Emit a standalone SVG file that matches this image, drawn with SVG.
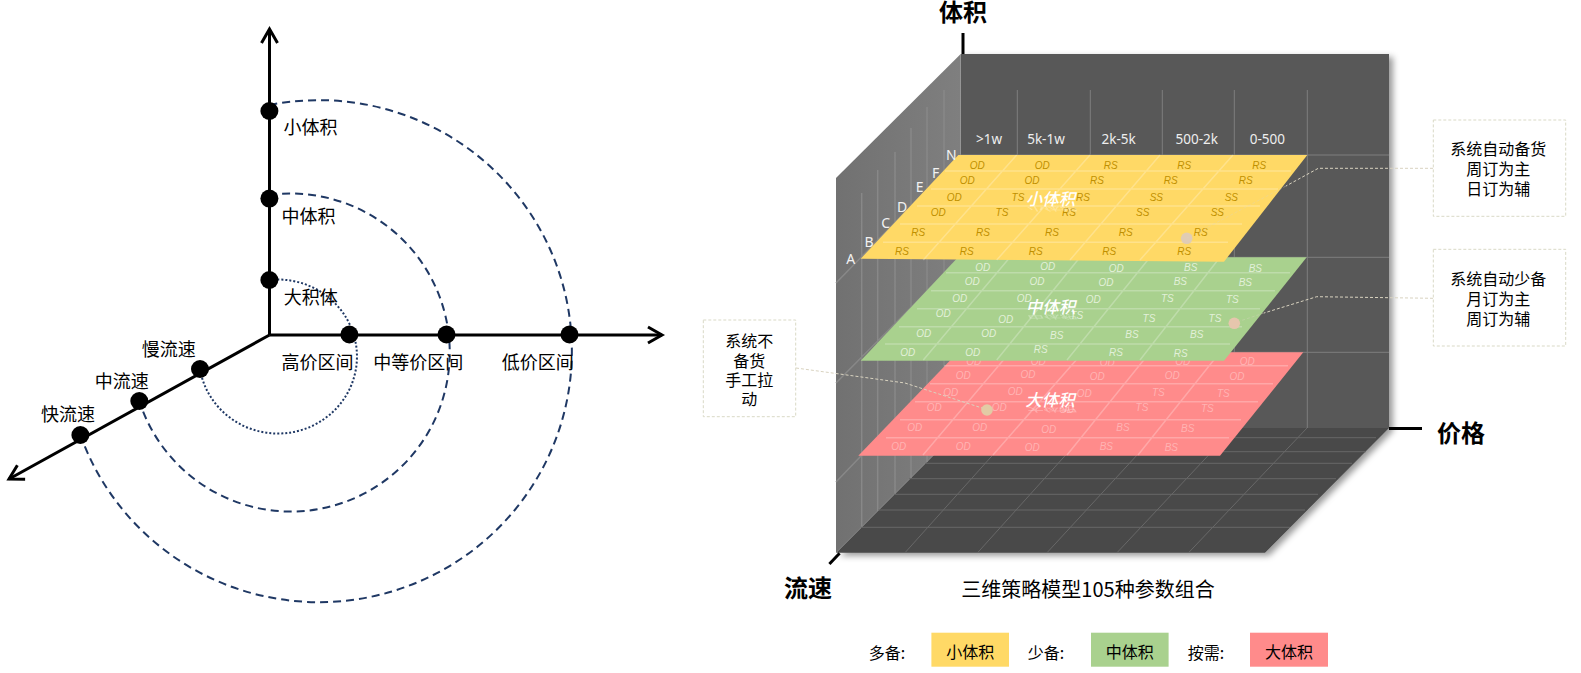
<svg xmlns="http://www.w3.org/2000/svg" width="1581" height="673" viewBox="0 0 1581 673">
<style>
text{font-family:"Noto Sans CJK SC","Noto Sans",sans-serif;text-anchor:middle;dominant-baseline:central;fill:#000}
.l{font-size:18px}
.b{font-size:16px}
.h{font-size:24px;font-weight:700}
.cap{font-size:20px}
.ax{fill:none;stroke:#000;stroke-width:3}
.arc{fill:none;stroke:#1f3864;stroke-width:2;stroke-dasharray:8 5}
.dot{fill:#000}
.vg{stroke:#7f7f7f;stroke-width:1;fill:none}
.wg{stroke:#888;stroke-width:1.5;fill:none}
.fg{stroke:#686868;stroke-width:1;fill:none}
.pg{stroke:#fff;stroke-opacity:.25;stroke-width:1.5;fill:none}
.lead{fill:none;stroke:#d9d3c0;stroke-width:1;stroke-dasharray:3 2}
.faint{stroke-opacity:.35}
.box{fill:#fff;stroke:#d9d9c6;stroke-width:1;stroke-dasharray:3 2}
.hd{font-family:"Noto Sans",sans-serif;font-size:13.5px;fill:#eee}
.ro{font-family:"Noto Sans",sans-serif;font-size:14px;fill:#f2f2f2}
.c text{font-family:"Liberation Sans",sans-serif;font-size:10px;font-style:italic}
.y text{fill:#bf9000}
.g text{fill:#e2f0d9}
.r text{fill:#ffb3b3}
.c text.ti{font-family:"Noto Sans CJK SC",sans-serif;font-size:16.5px;font-weight:500;font-style:italic;fill:#fff}
</style>
<defs>
<marker id="open" markerUnits="userSpaceOnUse" markerWidth="24" markerHeight="24" refX="16" refY="10" orient="auto" viewBox="0 0 24 20"><path d="M2,2 L16,10 L2,18" fill="none" stroke="#000" stroke-width="3"/></marker>
<linearGradient id="wall" x1="0" y1="0" x2="1" y2="0"><stop offset="0" stop-color="#717171"/><stop offset="1" stop-color="#7f7f7f"/></linearGradient>
<filter id="sh" x="-5%" y="-5%" width="110%" height="110%"><feDropShadow dx="4" dy="3" stdDeviation="3" flood-color="#000" flood-opacity=".4"/></filter>
</defs>

<g id="connectors">
<path class="arc" style="stroke-dasharray:2 2" d="M269.4,280 A79,77 0 1 1 200,369"/>
<path class="arc" d="M269.2,195 A159,159 0 1 1 139.3,401"/>
<path class="arc" d="M269.4,105 A253,251 0 1 1 80.4,435"/>
<path class="ax" marker-end="url(#open)" d="M269.5,335 L269.5,29"/>
<path class="ax" marker-end="url(#open)" d="M269.5,335 L662,335"/>
<path class="ax" marker-end="url(#open)" d="M269.5,335 L9,479"/>
</g>

<g id="n-small-vol"><circle class="dot" cx="269.4" cy="111" r="9"/><text class="l" x="310.6" y="126">小体积</text></g>
<g id="n-mid-vol"><circle class="dot" cx="269.4" cy="198.6" r="9"/><text class="l" x="308.5" y="214.8">中体积</text></g>
<g id="n-big-vol"><circle class="dot" cx="269.4" cy="280" r="9"/><text class="l" x="310.8" y="296">大积体</text></g>
<g id="n-high"><circle class="dot" cx="349.4" cy="334.5" r="9"/><text class="l" x="317.6" y="360.7">高价区间</text></g>
<g id="n-mid"><circle class="dot" cx="446.5" cy="334.5" r="9"/><text class="l" x="418.3" y="360.7">中等价区间</text></g>
<g id="n-low"><circle class="dot" cx="569.5" cy="334.5" r="9"/><text class="l" x="537.7" y="360.7">低价区间</text></g>
<g id="n-slow"><circle class="dot" cx="200" cy="369" r="9"/><text class="l" x="168.8" y="347.7">慢流速</text></g>
<g id="n-midflow"><circle class="dot" cx="139.3" cy="401" r="9"/><text class="l" x="121.7" y="380">中流速</text></g>
<g id="n-fast"><circle class="dot" cx="80.4" cy="435" r="9"/><text class="l" x="68" y="413">快流速</text></g>

<g id="cube">
<g filter="url(#sh)">
<path fill="#595959" d="M960.7,54 H1389 V428 H960.7 Z"/>
<path fill="#484848" d="M836,552.7 H1265 L1389,428 H960.7 Z"/>
</g>
<path fill="url(#wall)" d="M960.7,54 L836,178 V552.7 L960.7,428 Z"/>
<path class="vg" d="M1017.3,90V428M1090.3,90V428M1162.3,90V428M1234.3,90V428M1307.3,90V428M960.7,155H1389M960.7,257.3H1389M960.7,352.3H1389"/>
<path class="wg" d="M861.7,193V527M877.7,170V511M895,152V494M911,128V478M927,107V462M944,90V445M836,283L960.7,155M836,383L960.7,257.3M836,482L960.7,352.3"/>
<path class="fg" d="M950,437.7H1376M936,451.7H1366M925,463.3H1352M909,478.7H1336M894,494.3H1318M878,510H1305M861,527.3H1290M905,552.7L1017,428M977.6,552.7L1090,428M1047,552.7L1162,428M1117,552.7L1234,428M1188.6,552.7L1307,428"/>
</g>

<g id="plane-large" class="c r">
<path fill="#ff8b8b" d="M958,352.3 H1303.3 L1220,455.7 H858.3 Z"/>
<path class="pg" d="M944,365.7H1288M930,383.7H1273M915,401.7H1258M900,419.7H1241M886,437.7H1229M923,455L1010,352.3M993,455L1083,352.3M1067,455L1150,352.3M1138,455L1220,352.3"/>
<text x="973.7" y="361">OD</text><text x="1038.3" y="361">OD</text><text x="1107.3" y="362">OD</text><text x="1182.7" y="361">OD</text><text x="1247.3" y="361.7">OD</text>
<text x="963.3" y="375.7">OD</text><text x="1028" y="374.3">OD</text><text x="1097.3" y="376.7">OD</text><text x="1172.3" y="375.7">OD</text><text x="1237" y="376.7">OD</text>
<text x="950.7" y="392.3">OD</text><text x="1015.3" y="391.7">OD</text><text x="1084.3" y="393.3">OD</text><text x="1158.3" y="392.3">TS</text><text x="1223.3" y="393.3">TS</text>
<text x="934.3" y="407.3">OD</text><text x="999.3" y="407.3">OD</text><text x="1066.7" y="409.3">OD</text><text x="1142" y="407.3">TS</text><text x="1207.3" y="408.3">TS</text>
<text x="914.7" y="427.7">OD</text><text x="979.7" y="427.7">OD</text><text x="1048.7" y="429.3">OD</text><text x="1123" y="427.7">BS</text><text x="1187.7" y="428.3">BS</text>
<text x="898.7" y="446.7">OD</text><text x="963.3" y="446.7">OD</text><text x="1032.3" y="447.3">OD</text><text x="1106.3" y="446.7">BS</text><text x="1171.3" y="447.3">BS</text>
<circle cx="987" cy="410" r="5.8" fill="#e2cba5"/>
<text id="t3" class="ti" x="1050" y="399">大体积</text>
<use href="#t3" opacity=".3" transform="translate(0,569.8) scale(1,-.4)"/>
</g>

<g id="plane-mid" class="c g">
<path fill="#a9d18e" d="M958,257.3 H1306.7 L1224,360.7 H860.7 Z"/>
<path class="pg" d="M946,272.7H1290M931,290.7H1275M917,308.7H1260M899,326.7H1242M885,344H1230M923.3,360L1010,257.3M996.7,360L1080,257.3M1067,360L1150,257.3M1140,360L1220,257.3"/>
<text x="982.7" y="267.7">OD</text><text x="1047.7" y="266.7">OD</text><text x="1116.3" y="268.7">OD</text><text x="1190.7" y="267.3">BS</text><text x="1255.3" y="268.7">BS</text>
<text x="972.3" y="281.7">OD</text><text x="1037" y="281.7">OD</text><text x="1106" y="282.7">OD</text><text x="1180.3" y="281.7">BS</text><text x="1245.3" y="282.7">BS</text>
<text x="959.7" y="298.7">OD</text><text x="1024.3" y="298.7">OD</text><text x="1093.3" y="299.7">OD</text><text x="1167.3" y="298.7">TS</text><text x="1232.3" y="299.7">TS</text>
<text x="943.3" y="313.3">OD</text><text x="1005.7" y="319.3">OD</text><text x="1076.7" y="315.3">TS</text><text x="1149" y="318.3">TS</text><text x="1215" y="318.3">TS</text>
<text x="923.7" y="333.3">OD</text><text x="988.7" y="333.3">OD</text><text x="1056.7" y="335.3">BS</text><text x="1132" y="334.3">BS</text><text x="1196.7" y="334.3">BS</text>
<text x="907.7" y="352.3">OD</text><text x="972.7" y="352.3">OD</text><text x="1040.7" y="349.3">RS</text><text x="1116" y="352.3">RS</text><text x="1180.7" y="353.3">RS</text>
<circle cx="1234.3" cy="323.3" r="5.8" fill="#e6c6ad"/>
<text id="t2" class="ti" x="1050.5" y="306">中体积</text>
<use href="#t2" opacity=".3" transform="translate(0,439.6) scale(1,-.4)"/>
</g>

<g id="plane-small" class="c y">
<path fill="#ffd966" d="M958.3,155 H1307.3 L1224,261.7 L860.7,258.7 Z"/>
<path class="pg" d="M945,171H1291M931,189H1278M917,206H1260M900,224H1242M883,242.3H1228M923.3,260L1016.7,155M996.7,260L1090,155M1070,260L1160,155M1140,260L1233,155"/>
<text x="977.3" y="165.7">OD</text><text x="1042.3" y="165.7">OD</text><text x="1110.7" y="165.7">RS</text><text x="1184.3" y="165.7">RS</text><text x="1259.3" y="165.7">RS</text>
<text x="967.3" y="180.7">OD</text><text x="1032" y="180.7">OD</text><text x="1097" y="180.7">RS</text><text x="1170.7" y="180.7">RS</text><text x="1245.7" y="180.7">RS</text>
<text x="954.3" y="197.3">OD</text><text x="1018" y="197.3">TS</text><text x="1083" y="197.3">RS</text><text x="1156.3" y="197.3">SS</text><text x="1231.3" y="197.3">SS</text>
<text x="938.3" y="212.3">OD</text><text x="1002" y="212.3">TS</text><text x="1069" y="212.3">RS</text><text x="1142.7" y="212.3">SS</text><text x="1217.3" y="212.3">SS</text>
<text x="918.3" y="232.3">RS</text><text x="983" y="232.3">RS</text><text x="1052" y="232.3">RS</text><text x="1125.7" y="232.3">RS</text><text x="1200.7" y="232.3">RS</text>
<text x="902" y="251.3">RS</text><text x="966.7" y="251.3">RS</text><text x="1035.7" y="251.3">RS</text><text x="1109.3" y="251.3">RS</text><text x="1184.3" y="251.3">RS</text>
<circle cx="1186.7" cy="238.3" r="5.8" fill="#e0ccb5"/>
<text id="t1" class="ti" x="1050.5" y="198">小体积</text>
<use href="#t1" opacity=".3" transform="translate(0,288.4) scale(1,-.4)"/>
</g>

<g id="price-headers">
<text class="hd" x="989" y="139.3">&gt;1w</text><text class="hd" x="1046" y="139.3">5k-1w</text><text class="hd" x="1118.7" y="139.3">2k-5k</text><text class="hd" x="1196.7" y="139.3">500-2k</text><text class="hd" x="1267.3" y="139.3">0-500</text>
</g>
<g id="flow-labels">
<text class="ro" x="850.7" y="258.3">A</text><text class="ro" x="869" y="241.3">B</text><text class="ro" x="885.7" y="222.3">C</text><text class="ro" x="902" y="206">D</text><text class="ro" x="919.7" y="186">E</text><text class="ro" x="935.7" y="172">F</text><text class="ro" x="951.3" y="154.3">N</text>
</g>

<g id="leaders">
<path class="lead" d="M1433,168.3 L1318.3,168.3 L1286,186"/>
<path class="lead faint" d="M1286,186 L1186.7,238.3"/>
<path class="lead" d="M1433,298.3 L1316.7,296.7 L1264,313"/>
<path class="lead faint" d="M1264,313 L1240,321"/>
<path class="lead" d="M796,368 L905,383 L982,408"/>
</g>

<g id="axis-volume"><path class="ax" d="M963,33V54"/><text class="h" x="963" y="10.5">体积</text></g>
<g id="axis-price"><path class="ax" d="M1389,428.5H1422"/><text class="h" x="1461" y="431">价格</text></g>
<g id="axis-flow"><path class="ax" d="M839.6,553.3L829.4,564"/><text class="h" x="808" y="586">流速</text></g>

<g id="note-1"><rect class="box" x="1433.3" y="120" width="132.4" height="96.3"/><text class="b" x="1498.3" y="148.3">系统自动备货</text><text class="b" x="1498.3" y="168.3">周订为主</text><text class="b" x="1498.3" y="188.3">日订为辅</text></g>
<g id="note-2"><rect class="box" x="1433.3" y="249.3" width="132.4" height="96.7"/><text class="b" x="1498.3" y="278.3">系统自动少备</text><text class="b" x="1498.3" y="298.3">月订为主</text><text class="b" x="1498.3" y="318.3">周订为辅</text></g>
<g id="note-3"><rect class="box" x="703.3" y="320" width="92.4" height="96.7"/><text class="b" x="749.3" y="340">系统不</text><text class="b" x="749.3" y="360">备货</text><text class="b" x="749.3" y="379.3">手工拉</text><text class="b" x="749.3" y="398.3">动</text></g>

<g id="caption"><text class="cap" x="1088" y="588">三维策略模型105种参数组合</text></g>

<g id="legend">
<text class="b" x="887" y="651.7">多备:</text>
<rect x="931.4" y="632.7" width="77.6" height="34" fill="#ffd966"/><text class="b" x="970.2" y="651">小体积</text>
<text class="b" x="1046" y="651.7">少备:</text>
<rect x="1091" y="632.7" width="77.6" height="34" fill="#a9d18e"/><text class="b" x="1129.8" y="651">中体积</text>
<text class="b" x="1206" y="651.7">按需:</text>
<rect x="1250" y="632.7" width="78" height="34" fill="#ff8b8b"/><text class="b" x="1289" y="651">大体积</text>
</g>
</svg>
